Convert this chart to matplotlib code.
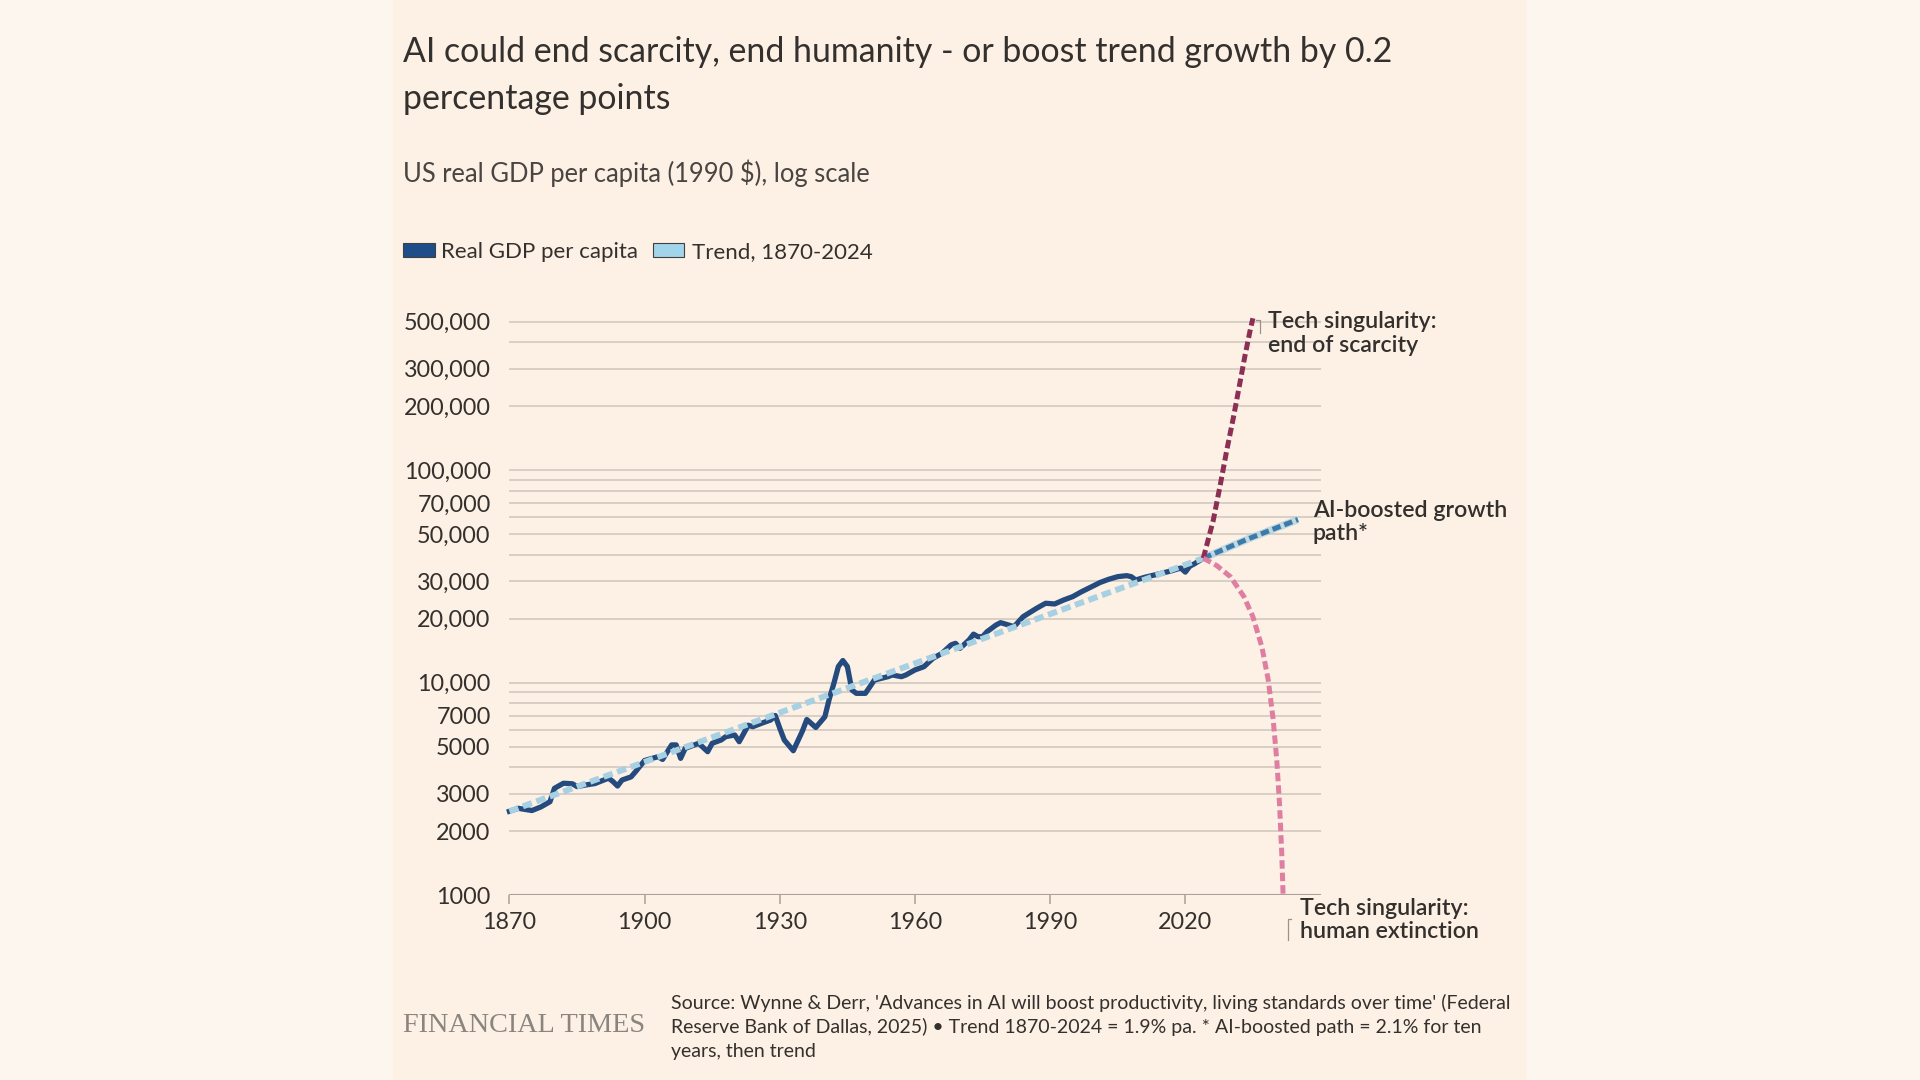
import numpy as np
import matplotlib.pyplot as plt
from matplotlib.patches import Rectangle
from matplotlib.lines import Line2D

# --- data ---
gdp_years = [1870, 1872, 1875, 1877, 1879, 1880, 1882, 1884, 1885, 1887, 1889,
             1892, 1893, 1894, 1895, 1897, 1898, 1900, 1903, 1904, 1906, 1907,
             1908, 1909, 1912, 1914, 1915, 1917, 1918, 1920, 1921, 1923, 1924,
             1926, 1928, 1929, 1930, 1931, 1933, 1935, 1936, 1938, 1940, 1941,
             1942, 1943, 1944, 1945, 1946, 1947, 1949, 1950, 1951, 1954, 1955,
             1957, 1958, 1960, 1962, 1964, 1966, 1968, 1969, 1970, 1972, 1973,
             1974, 1975, 1976, 1978, 1979, 1980, 1982, 1983, 1984, 1987, 1989,
             1991, 1993, 1995, 1997, 2000, 2001, 2003, 2005, 2007, 2008, 2009,
             2011, 2014, 2017, 2019, 2020, 2021, 2022, 2024]
gdp_values = [2480, 2560, 2500, 2600, 2750, 3180, 3360, 3340, 3240, 3300, 3350,
              3550, 3420, 3260, 3480, 3600, 3810, 4300, 4480, 4350, 5090, 5090,
              4400, 4900, 5180, 4730, 5180, 5370, 5565, 5670, 5270, 6300, 6200,
              6440, 6670, 7000, 6100, 5370, 4780, 5900, 6700, 6150, 6900, 8400,
              9900, 11900, 12700, 11900, 9230, 8900, 8900, 9560, 10280, 10660, 10860,
              10660, 10860, 11470, 11880, 13010, 13730, 15030, 15300, 14500, 15870, 16900,
              16440, 16440, 17360, 18660, 19140, 18870, 18330, 19350, 20420, 22370, 23620,
              23440, 24470, 25370, 26780, 28800, 29530, 30630, 31510, 31850, 31510, 30390,
              31300, 32400, 33600, 34600, 33100, 35300, 36200, 38500]

trend_years = [1870, 2024]
trend_values = [2480, 38500]

ai_years = [2024, 2034, 2045]
ai_values = [38500, 47500, 58500]

scarcity_years = [2024, 2026.2, 2027.7, 2029.2, 2030.7, 2032.1, 2033.2, 2034.4, 2035.0]
scarcity_values = [38500, 58000, 84000, 124000, 178000, 256000, 342000, 456000, 518000]

extinct_years = [2024, 2027, 2030, 2033, 2035, 2037, 2038.4, 2039.5, 2040.3, 2040.9, 2041.4, 2041.7]
extinct_values = [38500, 35500, 31500, 25400, 20400, 14700, 10300, 6700, 4300, 2700, 1570, 1000]

ytick_vals = [1000, 2000, 3000, 5000, 7000, 10000, 20000, 30000, 50000, 70000,
              100000, 200000, 300000, 500000]
ytick_labels = ['1000', '2000', '3000', '5000', '7000', '10,000', '20,000', '30,000',
                '50,000', '70,000', '100,000', '200,000', '300,000', '500,000']
grid_vals = [2000, 3000, 4000, 5000, 6000, 7000, 8000, 9000, 10000, 20000, 30000,
             40000, 50000, 60000, 70000, 80000, 90000, 100000, 200000, 300000,
             400000, 500000]
xticks = [1870, 1900, 1930, 1960, 1990, 2020]

# --- style ---
W, H = 1920, 1080
OUTER = '#fdf6ee'
PANEL = '#fdf1e5'
TEXT = '#33302e'
GRID = '#d9cfc5'
AXIS = '#a8a099'
C_GDP = '#254b7e'
C_TREND = '#a7d0e2'
C_AI = '#3d7aa9'
C_UP = '#8b2f55'
C_DOWN = '#e07ea2'

plt.rcParams['font.family'] = ['Lato', 'DejaVu Sans']


def fx(px):
    return px / W


def fy(py):
    return 1 - py / H


fig = plt.figure(figsize=(19.2, 10.8), dpi=100, facecolor=OUTER)
fig.patches.append(Rectangle((fx(393), 0), fx(1525) - fx(393), 1,
                             transform=fig.transFigure, color=PANEL, zorder=-5))

# axes placed in pixel space: 1870 -> x=509, 2050 -> x=1320; 1000 -> y=895, 600k -> y=305
ax = fig.add_axes([fx(509.4), fy(895.1), fx(1320.5) - fx(509.4), fy(304.7) - fy(895.1)])
ax.set_zorder(2)
ax.set_facecolor('none')
ax.set_yscale('log')
ax.set_xlim(1870, 2050)
ax.set_ylim(1000, 600000)
for s in ax.spines.values():
    s.set_visible(False)

for g in grid_vals:
    ax.axhline(g, color=GRID, lw=1.4, zorder=1)
ax.axhline(1000, color=AXIS, lw=1.5, zorder=1)

ax.set_yticks(ytick_vals)
ax.set_yticklabels(ytick_labels)
ax.yaxis.set_minor_locator(plt.NullLocator())
ax.tick_params(axis='y', length=0, pad=13.5, labelsize=16.8, labelcolor=TEXT)
ax.set_xticks(xticks)
ax.tick_params(axis='x', length=6.5, width=1.1, color=AXIS, pad=6,
               labelsize=16.8, labelcolor=TEXT)

ax.plot(gdp_years, gdp_values, color=C_GDP, lw=3.8, solid_joinstyle='round',
        zorder=3, clip_on=False)
ax.plot(trend_years, trend_values, color=C_TREND, lw=4.3, ls=(0, (1.6, 0.8)),
        dash_capstyle='butt', zorder=4, clip_on=False)
ax.plot(ai_years, ai_values, color=C_TREND, lw=5.4, alpha=0.7, zorder=4,
        solid_capstyle='butt', clip_on=False)
ax.plot(ai_years, ai_values, color=C_AI, lw=3.6, ls=(0, (1.7, 0.8)),
        dash_capstyle='butt', zorder=5, clip_on=False)
ax.plot(scarcity_years, scarcity_values, color=C_UP, lw=3.6, ls=(0, (1.7, 0.8)),
        dash_capstyle='butt', zorder=5, clip_on=False)
ax.plot(extinct_years, extinct_values, color=C_DOWN, lw=3.6, ls=(0, (1.7, 0.8)),
        dash_capstyle='butt', zorder=5, clip_on=False)

# --- titles and legend ---
fig.text(fx(403), fy(62), 'AI could end scarcity, end humanity - or boost trend growth by 0.2',
         fontsize=24.4, color=TEXT, va='baseline')
fig.text(fx(403), fy(109), 'percentage points', fontsize=24.4, color=TEXT, va='baseline')
fig.text(fx(403), fy(182), 'US real GDP per capita (1990 $), log scale',
         fontsize=18.4, color='#4a4542', va='baseline')

fig.patches.append(Rectangle((fx(403), fy(257)), fx(435) - fx(403), fy(243) - fy(257),
                             transform=fig.transFigure, facecolor='#1f4d8a',
                             edgecolor='#404040', lw=0.8, zorder=2))
fig.text(fx(441), fy(258), 'Real GDP per capita', fontsize=16, color=TEXT, va='baseline')
fig.patches.append(Rectangle((fx(653), fy(257)), fx(684) - fx(653), fy(243) - fy(257),
                             transform=fig.transFigure, facecolor='#a2d4ea',
                             edgecolor='#404040', lw=0.8, zorder=2))
fig.text(fx(692), fy(258), 'Trend, 1870-2024', fontsize=16, color=TEXT, va='baseline')

# --- annotations ---
ann = dict(fontsize=16.7, color=TEXT, va='baseline', fontweight='semibold')
fig.text(fx(1268), fy(328), 'Tech singularity:', **ann)
fig.text(fx(1268), fy(351.5), 'end of scarcity', **ann)
fig.lines.append(Line2D([fx(1256), fx(1260), fx(1260)], [fy(320), fy(320), fy(333)],
                        transform=fig.transFigure, color='#9a938c', lw=0.9))

fig.text(fx(1313), fy(517), 'AI-boosted growth', **ann)
fig.text(fx(1313), fy(540), 'path*', **ann)

fig.text(fx(1300), fy(915), 'Tech singularity:', **ann)
fig.text(fx(1300), fy(937.5), 'human extinction', **ann)
fig.lines.append(Line2D([fx(1291), fx(1288), fx(1288)], [fy(919), fy(919), fy(940)],
                        transform=fig.transFigure, color='#9a938c', lw=0.9))

# --- footer ---
fig.text(fx(403), fy(1031.5), 'FINANCIAL TIMES', fontsize=20.3,
         family=['Liberation Serif', 'DejaVu Serif'], color='#8b857f', va='baseline')
source = ["Source: Wynne & Derr, 'Advances in AI will boost productivity, living standards over time' (Federal",
          "Reserve Bank of Dallas, 2025) \u2022 Trend 1870-2024 = 1.9% pa. * AI-boosted path = 2.1% for ten",
          "years, then trend"]
for i, line in enumerate(source):
    fig.text(fx(671), fy(1009 + 24 * i), line, fontsize=14.0, color=TEXT, va='baseline')

fig.savefig('out.png', dpi=100, facecolor=OUTER)
